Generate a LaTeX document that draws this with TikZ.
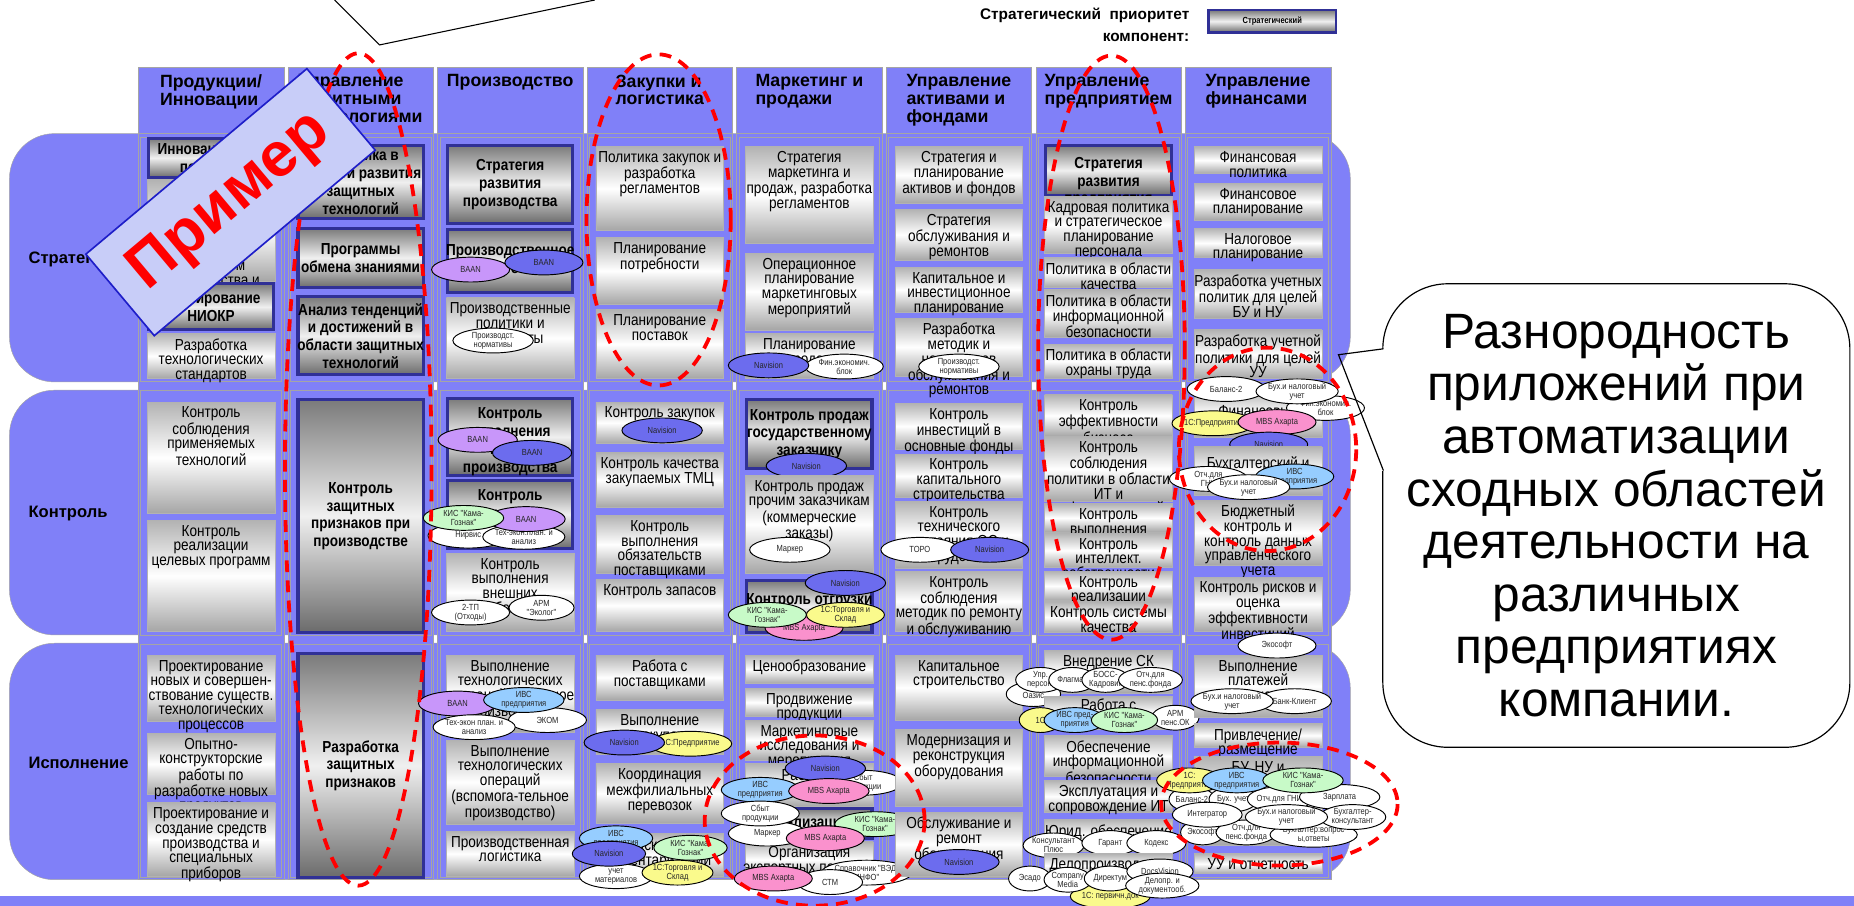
\documentclass[tikz,border=0pt]{standalone}
\usepackage{fontspec}
\setmainfont{Liberation Sans}
\newfontfamily\nar[FakeStretch=0.85]{Liberation Sans}
\usetikzlibrary{shapes.geometric}
\definecolor{bgblue}{RGB}{128,128,248}
\definecolor{gridgray}{RGB}{165,165,165}
\definecolor{sblue}{RGB}{48,48,150}
\definecolor{navb}{RGB}{108,108,238}
\definecolor{baanv}{RGB}{200,150,250}
\definecolor{ivsb}{RGB}{150,205,255}
\definecolor{kisg}{RGB}{200,250,200}
\definecolor{yel}{RGB}{250,250,140}
\definecolor{mbsp}{RGB}{250,145,205}
\definecolor{bannerfill}{RGB}{200,205,248}
\definecolor{bannerline}{RGB}{30,30,200}
\tikzset{
 nbox/.style={rectangle, draw=gray!60, line width=0.6pt, minimum width=108pt, inner sep=0pt, top color=gray!60, bottom color=gray!70, middle color=white},
 sbox/.style={rectangle, draw=sblue, line width=2.6pt, minimum width=106pt, inner sep=0pt, top color=black!52, bottom color=black!58, middle color=black!6},
 ntext/.style={anchor=north, align=center, inner sep=2pt, font=\nar\fontsize{13.5}{12.4}\selectfont},
 stext/.style={align=center, inner sep=1pt, font=\nar\bfseries\fontsize{13.5}{15}\selectfont},
 app/.style={ellipse, draw=black, line width=0.8pt, inner sep=0pt, minimum height=21pt, align=center, text=black!85, font=\nar\fontsize{7.5}{7.6}\selectfont},
 htext/.style={anchor=north, align=left, inner sep=1pt, font=\bfseries\fontsize{15}{15}\selectfont},
 rlabel/.style={anchor=west, inner sep=0pt, font=\bfseries\fontsize{14}{16}\selectfont},
 reddash/.style={draw=red, line width=3.2pt, dash pattern=on 10pt off 7pt},
}
\newcommand\mkN[6][0]{%
 \pgfmathsetmacro\qcx{178.5+126.5*(#3-1)}%
 \pgfmathsetmacro\qcy{(#4+#5)/2}%
 \pgfmathsetmacro\qh{#5-#4}%
 \node[nbox,minimum height=\qh pt] (#2) at (\qcx,\qcy) {};%
 \node[ntext] (#2t) at (\qcx,#4+2+#1) {#6};%
}
\newcommand\mkS[6][0]{%
 \pgfmathsetmacro\qcx{178.5+126.5*(#3-1)}%
 \pgfmathsetmacro\qcy{(#4+#5)/2}%
 \pgfmathsetmacro\qh{#5-#4}%
 \node[sbox,minimum height=\qh pt] (#2) at (\qcx,\qcy) {};%
 \node[stext] (#2t) at (\qcx,\qcy+#1) {#6};%
}
\newcommand\mkA[6]{\node[app,fill=#5,minimum width=#4pt] (#1) at (#2,#3) {#6};}
\begin{document}
\begin{tikzpicture}[x=1pt,y=-1pt]
\useasboundingbox (0,0) rectangle (1568,766);
% row bands
\draw[gridgray, fill=bgblue, rounded corners=38pt] (8,113) rectangle (1142,323);
\draw[gridgray, fill=bgblue, rounded corners=38pt] (8,330) rectangle (1142,537);
\draw[gridgray, fill=bgblue, rounded corners=38pt] (8,544) rectangle (1142,744);
% columns
\foreach \i in {0,...,7} {
  \pgfmathsetmacro\L{117+126.5*\i}
  \pgfmathsetmacro\R{\L+123}
  \fill[bgblue] (\L,57) rectangle (\R,744);
  \draw[gridgray] (\L,57) rectangle (\R,744);
  \draw[gridgray] (\L,57) rectangle (\R,113);
  \draw[gridgray] (\L+2,116) rectangle (\R-2,322);
  \draw[gridgray] (\L+2,330) rectangle (\R-2,537);
  \draw[gridgray] (\L+2,545) rectangle (\R-2,742);
}
% bottom strip
\fill[bgblue] (0,758) rectangle (1568,766);
% headers
\node[htext] (h1) at (178.5,62) {Продукции/\\Инновации};
\node[htext] (h2) at (305,62) {Управление\\защитными\\технологиями};
\node[htext] (h3) at (431.5,62) {Производство};
\node[htext] (h4) at (558,62) {Закупки и\\логистика};
\node[htext] (h5) at (684.5,62) {Маркетинг и\\продажи};
\node[htext] (h6) at (811,62) {Управление\\активами и\\фондами};
\node[htext] (h7) at (937.5,62) {Управление\\предприятием};
\node[htext] (h8) at (1064,62) {Управление\\финансами};
% row labels
\node[rlabel] (r1) at (24,219) {Стратегический};
\node[rlabel] (r2) at (24,434) {Контроль};
\node[rlabel] (r3) at (24,645) {Исполнение};
% ---- column 1
\mkS{c1s1}{1}{117}{150}{Инновационная\\политика}
\mkN{c1s2}{1}{152}{238}{Стратегия\\технологического\\развития\\в области\\управления\\процессом\\производства и\\качества}
\mkS{c1s3}{1}{240}{279}{Планирование\\НИОКР}
\mkN{c1s4}{1}{282}{320}{Разработка\\технологических\\стандартов}
\mkN{c1c1}{1}{340}{434}{Контроль\\соблюдения\\применяемых\\технологий}
\mkN{c1c2}{1}{440}{534}{Контроль\\реализации\\целевых программ}
\mkN{c1e1}{1}{554}{610}{Проектирование\\новых и совершен-\\ствование существ.\\технологических\\процессов}
\mkN{c1e2}{1}{620}{672}{Опытно-\\конструкторские\\работы по\\разработке новых\\продуктов}
\mkN{c1e3}{1}{679}{741}{Проектирование и\\создание средств\\производства и\\специальных\\приборов}
% ---- column 2
\mkS{c2s1}{2}{123}{185}{Политика в\\области развития\\защитных\\технологий}
\mkS{c2s2}{2}{193}{243}{Программы\\обмена знаниями}
\mkS{c2s3}{2}{251}{317}{Анализ тенденций\\и достижений в\\области защитных\\технологий}
\mkS{c2c1}{2}{338}{535}{Контроль\\защитных\\признаков при\\производстве}
\mkS{c2e1}{2}{553}{742}{Разработка\\защитных\\признаков}
% ---- column 3
\mkS{c3s1}{3}{123}{189}{Стратегия\\развития\\производства}
\mkS{c3s2}{3}{194}{247}{Производственное\\планирование}
\mkA{a301}{398}{228}{66}{baanv}{BAAN}
\mkA{a302}{460}{222}{66}{navb}{BAAN}
\mkN{c3s3}{3}{252}{320}{Производственные\\политики и\\стандарты}
\mkA{a303}{417}{288}{68}{white}{Производст.\\нормативы}
\mkS[4]{c3c1}{3}{337}{402}{Контроль\\исполнения\\плана\\производства}
\mkA{a304}{404}{372}{67}{baanv}{BAAN}
\mkA{a305}{450}{383}{67}{navb}{BAAN}
\mkS{c3c2}{3}{406}{464}{Контроль\\качества\\продукции}
\mkA{a306}{396}{453}{68}{white}{Нирвис}
\mkA{a307}{443}{454}{68}{white}{Тех-экон.план. и\\анализ}
\mkA{a308}{445}{439}{66}{baanv}{BAAN}
\mkA{a309}{392}{438}{68}{kisg}{КИС "Кама-\\Гознак"}
\mkN{c3c3}{3}{468}{534}{Контроль\\выполнения\\внешних\\требований}
\mkA{a310}{398}{518}{66}{white}{2-ТП\\(Отходы)}
\mkA{a311}{458}{514}{55}{white}{АРМ\\"Эколог"}
\mkN{c3e1}{3}{554}{619}{Выполнение\\технологических\\операций (основное\\производство)}
\mkA{a312}{463}{609}{66}{white}{ЭКОМ}
\mkA{a313}{387}{595}{66}{baanv}{BAAN}
\mkA{a314}{443}{592}{68}{ivsb}{ИВС\\предприятия}
\mkA{a315}{401}{615}{66}{white}{Тех-экон план. и\\анализ}
\mkN{c3e2}{3}{626}{697}{Выполнение\\технологических\\операций\\(вспомога-тельное\\производство)}
\mkN{c3e3}{3}{703}{741}{Производственная\\логистика}
% ---- column 4
\mkN{c4s1}{4}{124}{195}{Политика закупок и\\разработка\\регламентов}
\mkN{c4s2}{4}{201}{257}{Планирование\\потребности}
\mkN{c4s3}{4}{262}{320}{Планирование\\поставок}
\mkN{c4c1}{4}{340}{375}{Контроль закупок}
\mkA{a401}{560}{364}{68}{navb}{Navision}
\mkN{c4c2}{4}{383}{429}{Контроль качества\\закупаемых ТМЦ}
\mkN{c4c3}{4}{436}{485}{Контроль\\выполнения\\обязательств\\поставщиками}
\mkN{c4c4}{4}{490}{534}{Контроль запасов}
\mkN{c4e1}{4}{554}{592}{Работа с\\поставщиками}
\mkN{c4e2}{4}{600}{638}{Выполнение\\закупок}
\mkA{a402}{584}{629}{62}{yel}{1С:Предприятие}
\mkA{a403}{528}{628}{68}{navb}{Navision}
\mkN{c4e3}{4}{646}{696}{Координация\\межфилиальных\\перевозок}
\mkN{c4e4}{4}{705}{741}{Складской учет и\\инвентаризации}
\mkA{a404}{521}{741}{62}{white}{учет\\материалов}
\mkA{a405}{521}{709}{62}{ivsb}{ИВС\\предприятия}
\mkA{a406}{584}{717}{62}{kisg}{КИС "Кама-\\Гознак"}
\mkA{a407}{573}{738}{60}{yel}{1С:Торговля и\\Склад}
\mkA{a408}{515}{722}{62}{navb}{Navision}
% ---- column 5
\mkN{c5s1}{5}{124}{206}{Стратегия\\маркетинга и\\продаж, разработка\\регламентов}
\mkN{c5s2}{5}{214}{279}{Операционное\\планирование\\маркетинговых\\мероприятий}
\mkN{c5s3}{5}{282}{320}{Планирование\\продаж}
\mkA{a501}{714}{310}{66}{white}{Фин.экономич.\\блок}
\mkA{a502}{650}{309}{68}{navb}{Navision}
\mkS{c5c1}{5}{338}{396}{Контроль продаж\\государственному\\заказчику}
\mkA{a503}{682}{394}{68}{navb}{Navision}
\mkN{c5c2}{5}{402}{485}{Контроль продаж\\прочим заказчикам\\(коммерческие\\заказы)}
\mkA{a504}{668}{465}{68}{white}{Маркер}
\mkS[-5]{c5c3}{5}{491}{535}{Контроль отгрузки}
\mkA{a505}{715}{493}{68}{navb}{Navision}
\mkA{a506}{680}{531}{66}{mbsp}{MBS Axapta}
\mkA{a507}{649}{520}{66}{kisg}{КИС "Кама-\\Гознак"}
\mkA{a508}{715}{520}{66}{yel}{1С:Торговля и\\Склад}
\mkN{c5e1}{5}{554}{578}{Ценообразование}
\mkN{c5e2}{5}{582}{606}{Продвижение\\продукции}
\mkN{c5e3}{5}{609}{643}{Маркетинговые\\исследования и\\мероприятия}
\mkN{c5e4}{5}{646}{682}{Работа с\\заказами}
\mkS{c5e5}{5}{684}{709}{Реализация}
\mkN{c5e6}{5}{712}{742}{Организация\\экспортных поставок}
\mkA{a509}{730}{662}{66}{white}{Сбыт\\продукции}
\mkA{a510}{698}{650}{68}{navb}{Navision}
\mkA{a511}{643}{668}{66}{ivsb}{ИВС\\предприятия}
\mkA{a512}{701}{669}{68}{mbsp}{MBS Axapta}
\mkA{a513}{740}{697}{68}{kisg}{КИС "Кама-\\Гознак"}
\mkA{a514}{649}{705}{66}{white}{Маркер}
\mkA{a515}{643}{688}{66}{white}{Сбыт\\продукции}
\mkA{a516}{698}{709}{66}{mbsp}{MBS Axapta}
\mkA{a517}{733}{738}{66}{white}{Справочник "ВЭД-\\ИНФО"}
\mkA{a518}{702}{746}{55}{white}{СТМ}
\mkA{a519}{654}{743}{66}{mbsp}{MBS Axapta}
% ---- column 6
\mkN{c6s1}{6}{124}{172}{Стратегия и\\планирование\\активов и фондов}
\mkN{c6s2}{6}{177}{220}{Стратегия\\обслуживания и\\ремонтов}
\mkN{c6s3}{6}{226}{264}{Капитальное и\\инвестиционное\\планирование}
\mkN{c6s4}{6}{269}{318}{Разработка\\методик и\\нормативов\\обслуживания и\\ремонтов}
\mkA{a601}{811}{310}{68}{white}{Производст.\\нормативы}
\mkN{c6c1}{6}{341}{380}{Контроль\\инвестиций в\\основные фонды}
\mkN{c6c2}{6}{384}{421}{Контроль\\капитального\\строительства}
\mkN{c6c3}{6}{424}{481}{Контроль\\технического\\состояния ОС и\\оборудования}
\mkA{a602}{778}{465}{66}{white}{ТОРО}
\mkA{a603}{837}{465}{66}{navb}{Navision}
\mkN{c6c4}{6}{483}{534}{Контроль\\соблюдения\\методик по ремонту\\и обслуживанию}
\mkN{c6e1}{6}{554}{609}{Капитальное\\строительство}
\mkN{c6e2}{6}{617}{682}{Модернизация и\\реконструкция\\оборудования}
\mkN{c6e3}{6}{687}{741}{Обслуживание и\\ремонт\\оборудования}
\mkA{a604}{811}{729}{68}{navb}{Navision}
% ---- column 7
\mkS[10]{c7s1}{7}{123}{165}{Стратегия\\развития\\предприятия}
\mkN{c7s2}{7}{166}{214}{Кадровая политика\\и стратегическое\\планирование\\персонала}
\mkN{c7s3}{7}{218}{243}{Политика в области\\качества}
\mkN{c7s4}{7}{245}{285}{Политика в области\\информационной\\безопасности}
\mkN{c7s5}{7}{291}{320}{Политика в области\\охраны труда}
\mkN{c7c1}{7}{334}{369}{Контроль\\эффективности\\бизнеса}
\mkN{c7c2}{7}{369}{424}{Контроль\\соблюдения\\политики в области\\ИТ и\\информационной\\безопасности}
\mkN{c7c3}{7}{426}{450}{Контроль\\выполнения\\проектов}
\mkN{c7c4}{7}{451}{480}{Контроль\\интеллект.\\собственности}
\mkN{c7c5}{7}{483}{508}{Контроль\\реализации\\кадровой политики}
\mkN{c7c6}{7}{509}{535}{Контроль системы\\качества}
\mkN{c7e1}{7}{550}{586}{Внедрение СК}
\mkA{a701}{874}{587}{46}{white}{\\Оазис}
\mkA{a702}{880}{575}{42}{white}{Упр.\\персон.}
\mkA{a703}{907}{575}{40}{white}{Флагман}
\mkA{a704}{935}{575}{40}{white}{БОСС-\\Кадровик}
\mkA{a705}{973}{575}{54}{white}{Отч.для\\пенс.фонда}
\mkN[-2]{c7e2}{7}{589}{617}{Работа с\\персоналом}
\mkA{a706}{880}{609}{36}{yel}{1С}
\mkA{a707}{909}{609}{52}{ivsb}{ИВС пред-\\приятия}
\mkA{a708}{994}{607}{40}{white}{АРМ\\пенс.ОК}
\mkA{a709}{951}{609}{56}{kisg}{КИС "Кама-\\Гознак"}
\mkN{c7e3}{7}{622}{657}{Обеспечение\\информационной\\безопасности}
\mkN{c7e4}{7}{660}{687}{Эксплуатация и\\сопровождение ИТ}
\mkN{c7e5}{7}{693}{720}{Юрид. обеспечение}
\mkA{a710}{891}{715}{48}{white}{Консультант\\Плюс}
\mkA{a711}{939}{713}{48}{white}{Гарант}
\mkA{a712}{978}{713}{50}{white}{Кодекс}
\mkN{c7e6}{7}{722}{742}{Делопроизводство}
\mkA{a713}{939}{758}{66}{yel}{1С: первичн.док}
\mkA{a714}{871}{743}{36}{white}{Эсадо}
\mkA{a715}{903}{744}{40}{white}{Company\\Media}
\mkA{a716}{939}{743}{44}{white}{Директум}
\mkA{a717}{981}{737}{56}{white}{DocsVision}
\mkA{a718}{983}{749}{62}{white}{Делопр. и\\документооб.}
% ---- column 8
\mkN{c8s1}{8}{124}{147}{Финансовая\\политика}
\mkN{c8s2}{8}{155}{186}{Финансовое\\планирование}
\mkN{c8s3}{8}{193}{218}{Налоговое\\планирование}
\mkN{c8s4}{8}{228}{269}{Разработка учетных\\политик для целей\\БУ и НУ}
\mkN{c8s5}{8}{279}{320}{Разработка учетной\\политики для целей\\УУ}
\mkN[8]{c8c1}{8}{330}{370}{Финансовый\\контроль}
\mkA{a801}{1121}{345}{66}{white}{Фин.экономич.\\блок}
\mkA{a802}{1037}{329}{66}{white}{Баланс-2}
\mkA{a803}{1097}{331}{66}{white}{Бух.и налоговый\\учет}
\mkA{a804}{1026}{358}{66}{yel}{1С:Предприятие}
\mkA{a805}{1080}{357}{66}{mbsp}{MBS Axapta}
\mkA{a806}{1073}{376}{66}{navb}{Navision}
\mkN[4]{c8c2}{8}{378}{419}{Бухгалтерский и\\налоговый учет}
\mkA{a807}{1022}{405}{66}{white}{Отч.для\\ГНИ}
\mkA{a808}{1095}{403}{66}{ivsb}{ИВС\\предприятия}
\mkA{a809}{1056}{412}{66}{white}{Бух.и налоговый\\учет}
\mkN{c8c3}{8}{423}{478}{Бюджетный\\контроль и\\контроль данных\\управленческого\\учета}
\mkN{c8c4}{8}{488}{534}{Контроль рисков и\\оценка\\эффективности\\инвестиций}
\mkN{c8e1}{8}{554}{607}{Выполнение\\платежей\\и расчетов}
\mkA{a810}{1080}{546}{66}{white}{Экософт}
\mkA{a811}{1095}{593}{62}{white}{Банк-Клиент}
\mkA{a812}{1042}{593}{66}{white}{Бух.и налоговый\\учет}
\mkN{c8e2}{8}{612}{632}{Привлечение/\\размещение\\средств}
\mkN{c8e3}{8}{640}{715}{БУ, НУ и\\отчетность}
\mkN{c8e4}{8}{722}{739}{УУ и отчетность}
\mkA{a813}{1017}{704}{37}{white}{Экософт}
\mkA{a814}{1054}{704}{51}{white}{Отч.для\\пенс.фонда}
\mkA{a815}{1111}{706}{68}{white}{Бухгалтер:вопрос\\ы,ответы}
\mkA{a816}{1008}{676}{38}{white}{Баланс-2}
\mkA{a817}{1043}{676}{41}{white}{Бух. учет}
\mkA{a818}{1082}{676}{49}{white}{Отч.для ГНИ}
\mkA{a819}{1133}{674}{68}{white}{Зарплата}
\mkA{a820}{1021}{689}{59}{white}{Интегратор}
\mkA{a821}{1144}{691}{56}{white}{Бухгалтер-\\консультант}
\mkA{a822}{1088}{691}{65}{white}{Бух.и налоговый\\учет}
\mkA{a823}{1006}{660}{50}{yel}{1С:\\Предприятие}
\mkA{a824}{1046}{660}{58}{ivsb}{ИВС\\предприятия}
\mkA{a825}{1102}{660}{68}{kisg}{КИС "Кама-\\Гознак"}
% ---- red dashed ellipses
\draw[reddash] (303,397) ellipse [x radius=62, y radius=352];
\draw[reddash] (557,186) ellipse [x radius=61, y radius=140];
\draw[reddash] (940,294) ellipse [x radius=62, y radius=247];
\draw[reddash] (1072,380) ellipse [x radius=75, y radius=86];
\draw[reddash] (689,694) ellipse [x radius=93, y radius=72];
\draw[reddash] (1082,680) ellipse [x radius=100, y radius=52];
% ---- banner
\node[draw=bannerline, line width=1.4pt, fill=bannerfill, minimum width=244pt, minimum height=90pt, rotate=40, text=red, font=\bfseries\fontsize{53}{53}\selectfont, inner sep=0pt] (ban) at (195,171) {Пример};
% ---- top lines
\coordinate (tl1) at (283,0);
\coordinate (tv) at (321,38);
\coordinate (tl2) at (503,0);
\draw[line width=0.9pt] (tl1) -- (tv) -- (tl2);
% ---- legend
\node[anchor=north east, align=right, inner sep=0pt, font=\bfseries\fontsize{13}{18}\selectfont] (leg) at (1006,7) {Стратегический\ \ приоритет\\компонент:};
\node[sbox, minimum width=108pt, minimum height=19pt, line width=2.2pt] (legbox) at (1076,18) {};
\node[font=\nar\bfseries\fontsize{7.5}{8}\selectfont] (legt) at (legbox) {Стратегический};
% ---- balloon
\node[draw=black, fill=white, line width=1pt, rounded corners=55pt, minimum width=395pt, minimum height=392pt, align=center, font=\fontsize{42}{44.5}\selectfont] (bal) at (1367,436) {Разнородность\\приложений при\\автоматизации\\сходных областей\\деятельности на\\различных\\предприятиях\\компании.};
\coordinate (ptip) at (1132,300);
\coordinate (pb) at (1170,295);
\coordinate (pc) at (1170,398);
\draw[white, line width=2.5pt] (pb) -- (pc);
\draw[line width=1pt] (pb) -- (ptip) -- (pc);
\end{tikzpicture}
\end{document}
